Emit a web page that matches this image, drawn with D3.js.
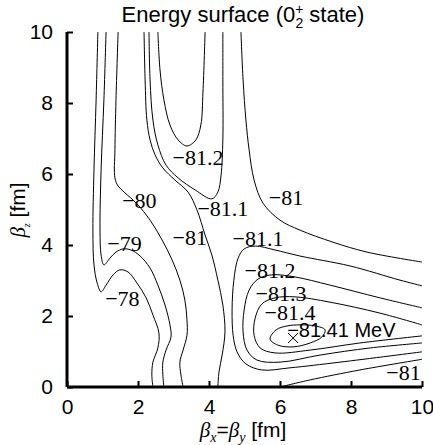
<!doctype html>
<html>
<head>
<meta charset="utf-8" />
<title>Energy surface</title>
<script src="https://cdn.jsdelivr.net/npm/d3@7"></script>
<style>
html,body{margin:0;padding:0;background:#fff;}
svg{display:block;}
.lab,.ser{font-family:"Liberation Serif","Times New Roman",Times,"DejaVu Serif",serif;}
.san{font-family:"Liberation Sans",Arial,Helvetica,sans-serif;}
</style>
</head>
<body>
<div id="chart"></div>
<script>
// contour lines, [beta_x, beta_z] in fm
var c78 = [[0.87,10],[0.82,8.09],[0.76,6.11],[0.73,4.42],[0.76,3.44],[0.85,2.93],[0.96,2.68],[1.10,2.87],[1.30,3.16],[1.49,3.30],[1.72,3.24],[1.97,2.93],[2.23,2.51],[2.42,2.03],[2.59,1.52],[2.56,1.10],[2.42,0.70],[2.39,0.34],[2.42,0]];
var c79 = [[1.10,10],[1.04,8.09],[0.96,6.11],[0.93,4.42],[0.96,3.72],[1.04,3.44],[1.21,3.63],[1.38,3.80],[1.58,3.89],[1.80,3.86],[2.06,3.69],[2.34,3.35],[2.56,2.87],[2.76,2.31],[2.90,1.75],[2.93,1.41],[2.79,1.04],[2.70,0.70],[2.70,0.34],[2.73,0]];
var c80 = [[1.44,10],[1.38,8.09],[1.35,6.68],[1.35,5.89],[1.44,5.66],[1.61,5.49],[1.97,5.16],[2.34,4.70],[2.68,4.14],[2.96,3.58],[3.18,3.01],[3.32,2.45],[3.38,1.89],[3.38,1.46],[3.27,1.04],[3.18,0.70],[3.21,0.34],[3.27,0]];
var c81a = [[2.17,10],[2.20,8.65],[2.25,7.52],[2.34,6.96],[2.48,6.54],[2.70,6.17],[3.04,5.83],[3.41,5.49],[3.66,4.99],[3.89,4.28],[4.08,3.72],[4.25,3.01],[4.39,2.31],[4.45,1.55],[4.37,0.90],[4.28,0.42],[4.25,0]];
var c81b = [[4.90,10],[4.96,8.65],[5.04,7.52],[5.13,6.68],[5.27,5.83],[5.52,5.18],[6.00,4.70],[6.56,4.42],[7.49,4.08],[8.45,3.80],[10,3.52]];
var c81c = [[6.00,0],[6.85,0.20],[8.25,0.48],[10,0.78]];
var c811a = [[2.31,10],[2.34,8.65],[2.42,7.52],[2.56,6.82],[2.79,6.25],[3.13,5.89],[3.61,5.55],[4.08,5.30],[4.25,5.49],[4.34,5.97],[4.39,6.96],[4.39,8.65],[4.39,10]];
var c811b = [[10,2.85],[9.38,3.01],[7.97,3.41],[6.56,3.69],[5.86,3.86],[5.30,3.97],[4.99,3.89],[4.82,3.63],[4.70,3.01],[4.65,2.17],[4.68,1.46],[4.79,0.99],[5.04,0.65],[5.49,0.48],[6.28,0.54],[7.69,0.70],[10,0.99]];
var c812a = [[2.56,10],[2.62,8.93],[2.73,8.09],[2.90,7.38],[3.13,6.96],[3.38,6.79],[3.63,6.96],[3.77,7.38],[3.83,8.31],[3.89,10]];
var c812b = [[10,2.23],[8.82,2.51],[7.41,2.87],[6.42,3.10],[5.77,3.16],[5.38,3.04],[5.13,2.73],[4.99,2.17],[4.96,1.55],[5.07,1.04],[5.35,0.76],[6.00,0.70],[7.13,0.90],[8.54,1.10],[10,1.24]];
var c813 = [[10,1.75],[8.82,2.08],[7.41,2.39],[6.42,2.54],[5.86,2.51],[5.49,2.34],[5.30,1.94],[5.27,1.46],[5.44,1.10],[5.86,0.96],[6.85,1.04],[8.25,1.24],[10,1.44]];
var c814 = [[5.72,1.35],[5.89,1.61],[6.20,1.72],[6.56,1.75],[6.99,1.72],[7.27,1.61],[7.18,1.41],[6.85,1.24],[6.37,1.13],[5.94,1.18]];

var lines = [c78, c79, c80, c81a, c81b, c81c, c811a, c811b, c812a, c812b, c813];
var closedLines = [c814];

var labelText = ["−78","−79","−80","−81","−81","−81","−81.1","−81.1","−81.2","−81.2","−81.3","−81.4"];
var labelX = [1.56, 1.62, 2.04, 3.46, 6.17, 9.48, 4.39, 5.38, 3.69, 5.72, 6.03, 6.28];
var labelZ = [2.51, 4.06, 5.27, 4.23, 5.35, 0.42, 5.04, 4.20, 6.48, 3.30, 2.65, 2.10];

var minPoint = [6.37, 1.38];
var minText = "−81.41 MeV";

var ticks = [0, 2, 4, 6, 8, 10];

var W = 433, H = 445;
var x = d3.scaleLinear().domain([0, 10]).range([67, 422]);
var y = d3.scaleLinear().domain([0, 10]).range([387, 32]);

var svg = d3.select("#chart").append("svg")
  .attr("width", W).attr("height", H);

var lineFunction = d3.line()
  .x(function(d) { return x(d[0]); })
  .y(function(d) { return y(d[1]); })
  .curve(d3.curveCatmullRom.alpha(0.5));
var closedFunction = d3.line()
  .x(function(d) { return x(d[0]); })
  .y(function(d) { return y(d[1]); })
  .curve(d3.curveCatmullRomClosed.alpha(0.5));

svg.append("defs").append("clipPath").attr("id", "plot")
  .append("rect").attr("x", x(0)).attr("y", y(10))
  .attr("width", x(10) - x(0)).attr("height", y(0) - y(10));

var g = svg.append("g").attr("clip-path", "url(#plot)");
g.selectAll("path.c").data(lines).enter().append("path")
  .attr("class", "c")
  .attr("d", lineFunction)
  .attr("fill", "none").attr("stroke", "#000").attr("stroke-width", 1);
g.selectAll("path.cc").data(closedLines).enter().append("path")
  .attr("class", "cc")
  .attr("d", closedFunction)
  .attr("fill", "none").attr("stroke", "#000").attr("stroke-width", 1);

// contour labels
svg.selectAll("text.lab").data(labelText).enter().append("text")
  .attr("class", "lab")
  .attr("x", function(d, i) { return x(labelX[i]); })
  .attr("y", function(d, i) { return y(labelZ[i]); })
  .attr("dy", "0.35em")
  .attr("text-anchor", "middle")
  .style("font-size", "22px")
  .text(function(d) { return d; });

// minimum marker
var mx = x(minPoint[0]), my = y(minPoint[1]);
svg.append("path")
  .attr("d", "M" + (mx - 5) + "," + (my - 5) + "L" + (mx + 5) + "," + (my + 5) +
             "M" + (mx - 5) + "," + (my + 5) + "L" + (mx + 5) + "," + (my - 5))
  .attr("stroke", "#000").attr("stroke-width", 1);
svg.append("text")
  .attr("class", "san")
  .attr("x", mx - 6).attr("y", my - 8).attr("dy", "0.35em")
  .style("font-size", "20px")
  .text(minText);

// axes
var xAxis = d3.axisBottom(x).tickValues(ticks).tickSize(-6).tickPadding(12).tickFormat(d3.format("d"));
var yAxis = d3.axisLeft(y).tickValues(ticks).tickSize(-6).tickPadding(14).tickFormat(d3.format("d"));

var gx = svg.append("g").attr("transform", "translate(0," + y(0) + ")").call(xAxis);
var gy = svg.append("g").attr("transform", "translate(" + x(0) + ",0)").call(yAxis);
[gx, gy].forEach(function(a) {
  a.attr("font-family", null).attr("font-size", null);
  a.select(".domain").attr("stroke-width", 3).attr("d",
    a === gx ? "M" + x(0) + ",0H" + x(10) : "M0," + y(0) + "V" + y(10));
  a.selectAll(".tick line").attr("stroke-width", 2);
  a.selectAll(".tick text")
    .attr("class", "san")
    .style("font-size", "21px").attr("fill", "#000");
});

// title
var title = svg.append("text")
  .attr("class", "san")
  .attr("x", 243).attr("y", 22)
  .attr("text-anchor", "middle")
  .style("font-size", "22px");
title.append("tspan").text("Energy surface (0");
title.append("tspan").style("font-size", "14px").attr("dy", -8).text("+");
title.append("tspan").style("font-size", "14px").attr("dx", -8).attr("dy", 14).text("2");
title.append("tspan").attr("dy", -6).text(" state)");

// x label
var xl = svg.append("text")
  .attr("class", "san")
  .attr("x", 243).attr("y", 437)
  .attr("text-anchor", "middle")
  .style("font-size", "21px");
xl.append("tspan").attr("class", "ser").style("font-style", "italic").text("β");
xl.append("tspan").attr("class", "ser").style("font-style", "italic").style("font-size", "14px").attr("dy", 5).text("x");
xl.append("tspan").attr("dy", -5).text("=");
xl.append("tspan").attr("class", "ser").style("font-style", "italic").text("β");
xl.append("tspan").attr("class", "ser").style("font-style", "italic").style("font-size", "14px").attr("dy", 5).text("y");
xl.append("tspan").attr("dy", -5).text(" [fm]");

// y label
var yl = svg.append("text")
  .attr("class", "san")
  .attr("transform", "translate(25,210) rotate(-90)")
  .attr("text-anchor", "middle")
  .style("font-size", "21px");
yl.append("tspan").attr("class", "ser").style("font-style", "italic").text("β");
yl.append("tspan").attr("class", "ser").style("font-style", "italic").style("font-size", "10px").attr("dy", 5).text("z");
yl.append("tspan").attr("dy", -5).text(" [fm]");
</script>
</body>
</html>
